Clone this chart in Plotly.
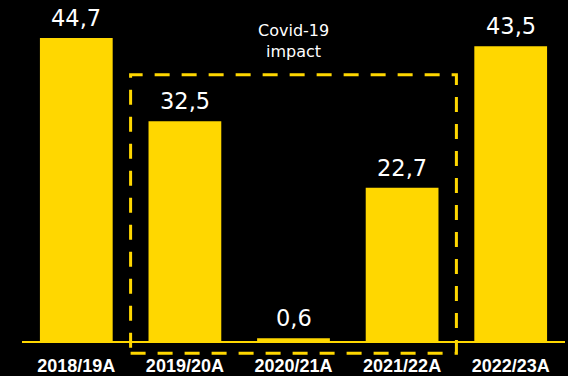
import plotly.graph_objects as go

categories = ["2018/19A", "2019/20A", "2020/21A", "2021/22A", "2022/23A"]
values = [44.7, 32.5, 0.6, 22.7, 43.5]
value_labels = ["44,7", "32,5", "0,6", "22,7", "43,5"]
covid_text = "Covid-19<br>impact"

YELLOW = "#FFD700"

fig = go.Figure()
fig.add_trace(go.Bar(
    x=categories, y=values,
    marker=dict(color=YELLOW, line=dict(width=0)),
    hoverinfo="skip",
))

for c, v, t in zip(categories, values, value_labels):
    fig.add_annotation(
        x=c, y=v, text=t, showarrow=False, yanchor="bottom", yshift=5,
        font=dict(family="DejaVu Sans", size=22.5, color="#FFFFFF"),
    )

fig.add_annotation(
    x=categories[2], y=44.3, text=covid_text, showarrow=False,
    yanchor="middle", font=dict(family="DejaVu Sans", size=16, color="#FFFFFF"),
)

# dashed Covid-19 box spanning the three covid years
fig.add_shape(
    type="rect", xref="x", yref="y",
    x0=0.5, x1=3.5, y0=-1.6, y1=39.3,
    line=dict(color=YELLOW, width=3, dash="15px,12px"),
    fillcolor="rgba(0,0,0,0)", layer="above",
)

fig.update_layout(
    width=568, height=376,
    margin=dict(l=22, r=3, t=2, b=20),
    paper_bgcolor="#000000", plot_bgcolor="#000000",
    bargap=0.33, showlegend=False,
    xaxis=dict(
        range=[-0.5, 4.5], showgrid=False, showline=False, ticks="",
        tickfont=dict(family="Liberation Sans", size=18, color="#FFFFFF"),
        automargin=False, fixedrange=True, ticklabelstandoff=-3,
        tickvals=categories, ticktext=["<b>%s</b>" % c for c in categories],
    ),
    yaxis=dict(
        range=[-2, 50], showgrid=False, showticklabels=False, showline=False,
        zeroline=True, zerolinecolor=YELLOW, zerolinewidth=2,
        automargin=False, fixedrange=True,
    ),
)

fig.write_html("out.html", config={"displayModeBar": False})
